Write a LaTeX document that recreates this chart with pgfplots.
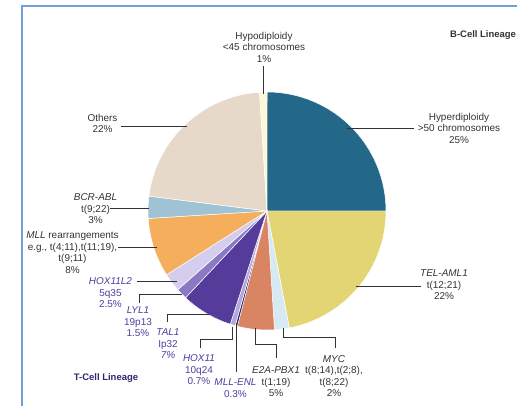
\documentclass[border=0pt]{standalone}
\usepackage{pgfplots}
\pgfplotsset{compat=1.18}
\usepackage{pgfplotstable}
\usepackage{fontspec}
\setmainfont{Liberation Sans}
\definecolor{cHyper}{HTML}{236789}
\definecolor{cTel}{HTML}{E3D574}
\definecolor{cMyc}{HTML}{D7EAF4}
\definecolor{cE2a}{HTML}{D98563}
\definecolor{cMllenl}{HTML}{2B2573}
\definecolor{cHoxe}{HTML}{B3A7DC}
\definecolor{cTal}{HTML}{553C9A}
\definecolor{cLyl}{HTML}{8B79C4}
\definecolor{cHoxl}{HTML}{D4CDEE}
\definecolor{cMll}{HTML}{F4AE5C}
\definecolor{cBcr}{HTML}{9FC3D4}
\definecolor{cOth}{HTML}{E6D9C9}
\definecolor{cHypo}{HTML}{FDF7D6}
\definecolor{tcell}{HTML}{4B3F9E}
\definecolor{tcellhead}{HTML}{2A2870}
\definecolor{frame}{HTML}{71A0D4}
\definecolor{txt}{HTML}{333333}
\pgfplotstableread[col sep=comma]{
name,value,color
Hyperdiploidy,25,cHyper
TEL-AML1,22,cTel
MYC,2,cMyc
E2A-PBX1,5,cE2a
MLL-ENL,0.3,cMllenl
HOX11,0.7,cHoxe
TAL1,7,cTal
LYL1,1.5,cLyl
HOX11L2,2.5,cHoxl
MLL,8,cMll
BCR-ABL,3,cBcr
Others,22,cOth
Hypodiploidy,1,cHypo
}\piedata
\begin{document}
\begin{tikzpicture}
\begin{axis}[
  x=1bp, y=1bp, xmin=0, xmax=517, ymin=0, ymax=406,
  hide axis, clip=false, enlargelimits=false,
  scale only axis,
]
\pgfplotstablegetrowsof{\piedata}
\pgfmathtruncatemacro{\nrows}{\pgfplotsretval-1}
\def\angstart{90}
\pgfplotsforeachungrouped \i in {0,...,\nrows}{%
  \pgfplotstablegetelem{\i}{value}\of\piedata \let\v\pgfplotsretval
  \pgfplotstablegetelem{\i}{color}\of\piedata \let\c\pgfplotsretval
  \pgfmathsetmacro{\angend}{\angstart-3.6*\v}
  \edef\temp{\noexpand\fill[fill=\c, draw=white, line width=0.5pt] (axis cs:267,195) -- (axis cs:{267+119*cos(\angstart)},{195+119*sin(\angstart)}) arc[start angle=\angstart, end angle=\angend, radius=119bp] -- cycle;}%
  \temp
  \global\let\angstart\angend
}
% frame
\draw[frame, line width=2bp] (axis cs:22,0) -- (axis cs:22,400) -- (axis cs:517,400);
% leaders
\begin{scope}[black!80, line width=0.6pt]
\draw (axis cs:263.5,340) -- (axis cs:263.5,312);
\draw (axis cs:347,278) -- (axis cs:414,278);
\draw (axis cs:356,120) -- (axis cs:421,120);
\draw (axis cs:283.3,78) -- (axis cs:283.3,68.7) -- (axis cs:335,68.7) -- (axis cs:335,58);
\draw (axis cs:255.7,78.3) -- (axis cs:255.7,61.7) -- (axis cs:276,61.7) -- (axis cs:276,48);
\draw (axis cs:236.7,83) -- (axis cs:236.7,34);
\draw (axis cs:232.3,79.3) -- (axis cs:232.3,67) -- (axis cs:200,67) -- (axis cs:200,58);
\draw (axis cs:209.3,91.7) -- (axis cs:167.7,91.7) -- (axis cs:167.7,84.3);
\draw (axis cs:181.7,111.7) -- (axis cs:139,111.7) -- (axis cs:139,103);
\draw (axis cs:136.7,124.3) -- (axis cs:176.7,124.3);
\draw (axis cs:118.3,158.7) -- (axis cs:156.7,158.7);
\draw (axis cs:110,197.7) -- (axis cs:149,197.7);
\draw (axis cs:120.7,280) -- (axis cs:186.7,280);
\end{scope}
% labels
\begin{scope}[every node/.style={align=center, inner sep=0pt, font=\fontsize{10}{11.5}\selectfont, text=txt}]
\node at (axis cs:264,359) {Hypodiploidy\\<45 chromosomes\\1\%};
\node at (axis cs:459,278) {Hyperdiploidy\\>50 chromosomes\\25\%};
\node at (axis cs:444,121.3) {\textit{TEL-AML1}\\t(12;21)\\22\%};
\node at (axis cs:334,30) {\textit{MYC}\\t(8;14),t(2;8),\\t(8;22)\\2\%};
\node at (axis cs:276,24) {\textit{E2A-PBX1}\\t(1;19)\\5\%};
\node[text=tcell] at (axis cs:235.5,18) {\textit{MLL-ENL}\\0.3\%};
\node[text=tcell] at (axis cs:199,36) {\textit{HOX11}\\10q24\\0.7\%};
\node[text=tcell] at (axis cs:168,62) {\textit{TAL1}\\Ip32\\\textit{7\%}};
\node[text=tcell] at (axis cs:138,84) {\textit{LYL1}\\19p13\\1.5\%};
\node[text=tcell] at (axis cs:110.5,113) {\textit{HOX11L2}\\5q35\\2.5\%};
\node at (axis cs:72.5,153.5) {\textit{MLL} rearrangements\\e.g., t(4;11),t(11;19),\\t(9;11)\\8\%};
\node at (axis cs:95.5,197.3) {\textit{BCR-ABL}\\t(9;22)\\3\%};
\node at (axis cs:102.5,282.5) {Others\\22\%};
\node[anchor=west, font=\fontsize{9.5}{11}\selectfont\bfseries] at (axis cs:450,371) {B-Cell Lineage};
\node[text=tcellhead, font=\fontsize{9.5}{11}\selectfont\bfseries] at (axis cs:106,28.3) {T-Cell Lineage};
\end{scope}
\end{axis}
\pgfresetboundingbox
\useasboundingbox (0,0) rectangle (517bp,406bp);
\end{tikzpicture}
\end{document}
